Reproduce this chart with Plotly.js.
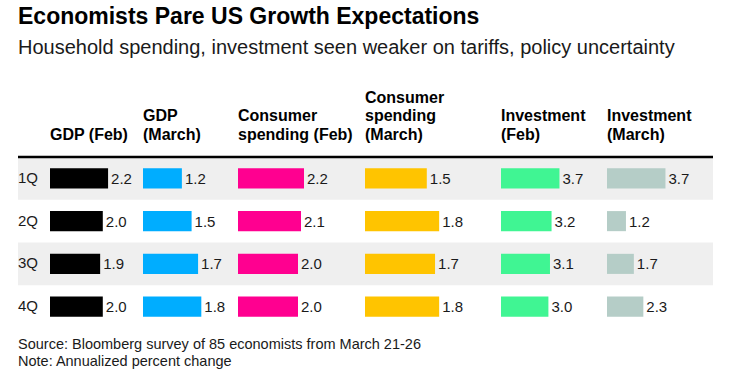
<!DOCTYPE html>
<html>
<head>
<meta charset="utf-8">
<script src="https://cdn.plot.ly/plotly-3.0.1.min.js"></script>
<style>html,body{margin:0;padding:0;background:#fff;}#chart{width:755px;height:370px;}</style>
</head>
<body>
<div id="chart"></div>
<script>
// ---- data ----
const quarters = ['1Q', '2Q', '3Q', '4Q'];
const columnNames = ['GDP (Feb)', 'GDP<br>(March)', 'Consumer<br>spending (Feb)', 'Consumer<br>spending<br>(March)', 'Investment<br>(Feb)', 'Investment<br>(March)'];
const gdpFeb = [2.2, 2.0, 1.9, 2.0];
const gdpMarch = [1.2, 1.5, 1.7, 1.8];
const consumerFeb = [2.2, 2.1, 2.0, 2.0];
const consumerMarch = [1.5, 1.8, 1.7, 1.8];
const investmentFeb = [3.7, 3.2, 3.1, 3.0];
const investmentMarch = [3.7, 1.2, 1.7, 2.3];
const footnotes = ['Source: Bloomberg survey of 85 economists from March 21-26', 'Note: Annualized percent change'];

// ---- styling / layout ----
const W = 755, H = 370;
const seriesList = [gdpFeb, gdpMarch, consumerFeb, consumerMarch, investmentFeb, investmentMarch];
const colors = ['#000000', '#00adff', '#ff0090', '#ffc400', '#40f593', '#b5cdc7'];
const colStart = [50, 143, 238, 365, 501, 607];   // px
const pxPerUnit = [26.4, 32.4, 30.0, 41.2, 15.8, 15.8];
const domWidth = 90;
const FONT = 'Liberation Sans, Arial, sans-serif';
const PLOT_TOP = 157;

const traces = [];
const layout = {
  width: W, height: H,
  margin: {l: 0, r: 0, t: PLOT_TOP, b: 42, pad: 0},
  paper_bgcolor: '#ffffff', plot_bgcolor: 'rgba(0,0,0,0)',
  showlegend: false,
  bargap: 0.53,
  font: {family: FONT, color: '#1a1a1a'},
  title: {
    text: '<b>Economists Pare US Growth Expectations</b>',
    font: {family: FONT, size: 23, color: '#000000'},
    x: 18 / W, xanchor: 'left', xref: 'container',
    y: 1 - 16 / H, yanchor: 'middle', yref: 'container'
  },
  yaxis: {
    type: 'category', categoryorder: 'array', categoryarray: quarters,
    autorange: 'reversed', showticklabels: false, showgrid: false, zeroline: false,
    fixedrange: true
  },
  shapes: [],
  annotations: []
};

seriesList.forEach((vals, i) => {
  const axName = i === 0 ? 'x' : 'x' + (i + 1);
  const axKey = i === 0 ? 'xaxis' : 'xaxis' + (i + 1);
  traces.push({
    type: 'bar', orientation: 'h',
    x: vals, y: quarters,
    xaxis: axName, yaxis: 'y',
    marker: {color: colors[i], line: {width: 0}},
    text: vals.map(v => v.toFixed(1)),
    textposition: 'outside',
    constraintext: 'none',
    cliponaxis: false,
    textfont: {family: FONT, size: 15, color: '#1a1a1a'},
    hoverinfo: 'skip'
  });
  layout[axKey] = {
    domain: [colStart[i] / W, (colStart[i] + domWidth) / W],
    range: [0, domWidth / pxPerUnit[i]],
    showticklabels: false, showgrid: false, zeroline: false, showline: false,
    fixedrange: true
  };
  // column header, one annotation per line, bottom line centred at y=134px
  const lines = columnNames[i].split('<br>');
  lines.forEach((ln, j) => {
    const centerPx = 134 - (lines.length - 1 - j) * 18.5;
    layout.annotations.push({
      text: '<b>' + ln + '</b>',
      xref: 'paper', yref: 'paper',
      x: colStart[i] / W, xanchor: 'left', xshift: -2,
      y: 1, yanchor: 'middle', yshift: PLOT_TOP - centerPx,
      align: 'left', showarrow: false,
      font: {family: FONT, size: 16, color: '#000000'}
    });
  });
});

// shaded row bands (1Q and 3Q) and row labels
quarters.forEach((q, k) => {
  if (k % 2 === 0) {
    layout.shapes.push({
      type: 'rect', layer: 'below',
      xref: 'paper', yref: 'y',
      x0: 18 / W, x1: 713 / W, y0: k - 0.5, y1: k + 0.5,
      fillcolor: '#efefef', line: {width: 0}
    });
  }
  layout.annotations.push({
    text: q, xref: 'paper', yref: 'y',
    x: 18 / W, xanchor: 'left', xshift: -2, y: q, yanchor: 'middle', yshift: 1,
    showarrow: false, font: {family: FONT, size: 15, color: '#1a1a1a'}
  });
});

// header rule
layout.shapes.push({
  type: 'line', xref: 'paper', yref: 'paper',
  x0: 18 / W, x1: 713 / W, y0: 1, y1: 1,
  line: {color: '#000000', width: 2.5}
});

// subtitle
layout.annotations.push({
  text: 'Household spending, investment seen weaker on tariffs, policy uncertainty',
  xref: 'paper', yref: 'paper', x: 18 / W, xanchor: 'left', xshift: -2,
  y: 1, yanchor: 'middle', yshift: PLOT_TOP - 47,
  showarrow: false, font: {family: FONT, size: 20, color: '#1a1a1a'}
});

// footnotes
footnotes.forEach((t, j) => {
  const centerPx = 344 + j * 17;
  layout.annotations.push({
    text: t,
    xref: 'paper', yref: 'paper', x: 18 / W, xanchor: 'left', xshift: -2, align: 'left',
    y: 0, yanchor: 'middle', yshift: (H - 42) - centerPx,
    showarrow: false, font: {family: FONT, size: 14.5, color: '#1a1a1a'}
  });
});

Plotly.newPlot('chart', traces, layout, {displayModeBar: false, staticPlot: true});
</script>
</body>
</html>
